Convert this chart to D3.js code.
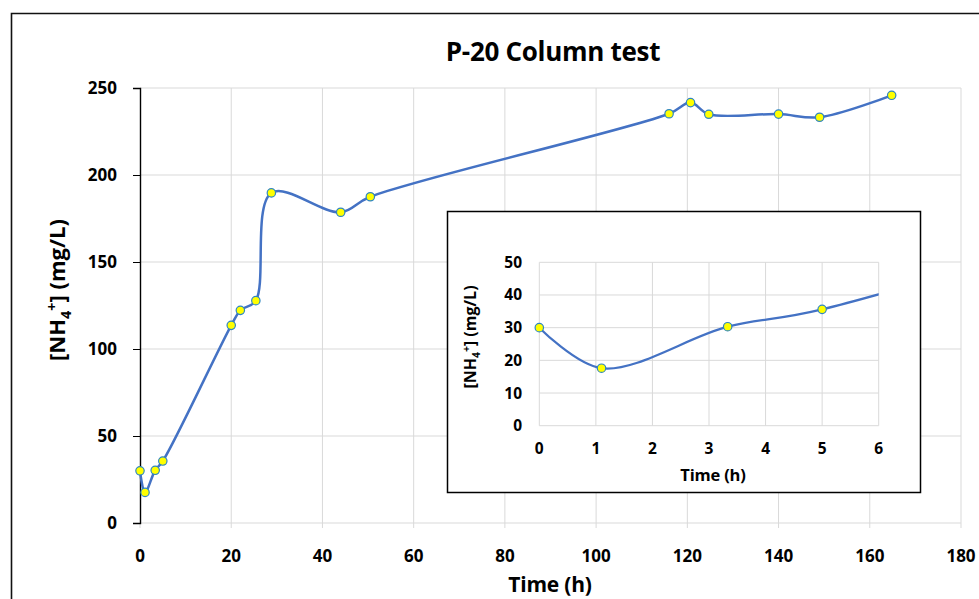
<!DOCTYPE html>
<html>
<head>
<meta charset="utf-8">
<script src="https://cdn.jsdelivr.net/npm/d3@7"></script>
<style>
  body { margin: 0; background: #fff; }
  svg { display: block; font-family: "Open Sans", Lato, sans-serif; font-weight: 700; }
</style>
</head>
<body>
<svg id="chart" width="979" height="599"></svg>
<script>
// Data
const timeH = [0, 1.1, 3.33, 5, 20, 22, 25.4, 28.8, 44, 50.5, 116, 120.7, 124.7, 140, 149, 164.8];
const nh4   = [30, 17.6, 30.3, 35.6, 113.6, 122.2, 127.8, 189.7, 178.6, 187.5, 235.2, 241.6, 234.9, 235, 233.2, 245.8];

const mainXTicks = [0, 20, 40, 60, 80, 100, 120, 140, 160, 180];
const mainYTicks = [0, 50, 100, 150, 200, 250];
const insetXTicks = [0, 1, 2, 3, 4, 5, 6];
const insetYTicks = [0, 10, 20, 30, 40, 50];

const points = timeH.map((t, i) => ({ t, v: nh4[i] }));

const LINE = "#4472C4", GRID = "#d9d9d9";

const svg = d3.select("#chart");

// outer chart border
svg.append("path")
  .attr("d", "M11.5,599 L11.5,13.5 L979,13.5")
  .attr("fill", "none").attr("stroke", "#111").attr("stroke-width", 1.6);

// Main chart
const x = d3.scaleLinear().domain([0, 180]).range([140, 961]);
const y = d3.scaleLinear().domain([0, 250]).range([523, 88]);

const main = svg.append("g");

main.append("g").selectAll("line").data(mainXTicks.slice(1)).join("line")
  .attr("x1", d => x(d)).attr("x2", d => x(d))
  .attr("y1", y(250)).attr("y2", y(0) + 5)
  .attr("stroke", GRID).attr("stroke-width", 1);
main.append("g").selectAll("line").data(mainYTicks.slice(1)).join("line")
  .attr("x1", x(0)).attr("x2", x(180))
  .attr("y1", d => y(d)).attr("y2", d => y(d))
  .attr("stroke", GRID).attr("stroke-width", 1);

// x axis (gray)
main.append("line")
  .attr("x1", x(0)).attr("x2", x(180)).attr("y1", y(0)).attr("y2", y(0))
  .attr("stroke", GRID).attr("stroke-width", 1.2);
main.append("line")
  .attr("x1", x(0)).attr("x2", x(0)).attr("y1", y(0)).attr("y2", y(0) + 5)
  .attr("stroke", GRID);

// y axis (black with ticks)
const yAxis = main.append("g").attr("transform", `translate(${x(0)},0)`)
  .call(d3.axisLeft(y).tickValues(mainYTicks).tickSize(7).tickPadding(16));
yAxis.select(".domain").attr("stroke", "#000").attr("stroke-width", 1.4);
yAxis.selectAll(".tick line").attr("stroke", "#000");
yAxis.selectAll("text").attr("font-size", "17px").attr("font-family", "'Open Sans'")
  .attr("font-weight", "700").attr("fill", "#000");

main.append("g").selectAll("text").data(mainXTicks).join("text")
  .attr("x", d => x(d)).attr("y", 562)
  .attr("text-anchor", "middle").attr("font-size", "17px").attr("fill", "#000")
  .text(d => d);

const smooth = d3.curveCatmullRom.alpha(0.5);
const lineMain = d3.line().x(d => x(d.t)).y(d => y(d.v)).curve(smooth);

main.append("path").attr("d", lineMain(points))
  .attr("fill", "none").attr("stroke", LINE).attr("stroke-width", 2.5);
main.append("g").selectAll("circle").data(points).join("circle")
  .attr("cx", d => x(d.t)).attr("cy", d => y(d.v)).attr("r", 4.2)
  .attr("fill", "#FFFF00").attr("stroke", "#2E86C1").attr("stroke-width", 1.2);

// titles
svg.append("text").attr("x", 553).attr("y", 61).attr("text-anchor", "middle")
  .attr("font-size", "26px").attr("letter-spacing", "-0.3").text("P-20 Column test");
svg.append("text").attr("x", 550).attr("y", 592).attr("text-anchor", "middle")
  .attr("font-size", "21px").attr("letter-spacing", "-0.2").text("Time (h)");

function nhLabel(g, size) {
  const t = g.append("text").attr("text-anchor", "middle").attr("font-size", size + "px");
  t.append("tspan").text("[NH");
  t.append("tspan").attr("font-size", (size * 0.65) + "px").attr("dy", size * 0.25).text("4");
  t.append("tspan").attr("font-size", (size * 0.65) + "px").attr("dy", -size * 0.62).text("+");
  t.append("tspan").attr("dy", size * 0.37).text("] (mg/L)");
  return t;
}
nhLabel(svg.append("g").attr("transform", "translate(65,290) rotate(-90)"), 22);

// Inset
const inset = svg.append("g");
inset.append("rect").attr("x", 447.5).attr("y", 211.5).attr("width", 473).attr("height", 281)
  .attr("fill", "#fff").attr("stroke", "#000").attr("stroke-width", 1.5);

const xi = d3.scaleLinear().domain([0, 6]).range([539.3, 878.7]);
const yi = d3.scaleLinear().domain([0, 50]).range([425.7, 262.3]);

inset.append("g").selectAll("line").data(insetXTicks).join("line")
  .attr("x1", d => xi(d)).attr("x2", d => xi(d))
  .attr("y1", yi(50)).attr("y2", yi(0))
  .attr("stroke", GRID).attr("stroke-width", 1);
inset.append("g").selectAll("line").data(insetYTicks).join("line")
  .attr("x1", xi(0)).attr("x2", xi(6))
  .attr("y1", d => yi(d)).attr("y2", d => yi(d))
  .attr("stroke", GRID).attr("stroke-width", 1);

inset.append("g").selectAll("text").data(insetYTicks).join("text")
  .attr("x", 522).attr("y", d => yi(d) + 5.5)
  .attr("text-anchor", "end").attr("font-size", "15.5px").text(d => d);
inset.append("g").selectAll("text").data(insetXTicks).join("text")
  .attr("x", d => xi(d)).attr("y", 454)
  .attr("text-anchor", "middle").attr("font-size", "15.5px").text(d => d);

inset.append("text").attr("x", 713).attr("y", 481).attr("text-anchor", "middle")
  .attr("font-size", "16.5px").attr("letter-spacing", "-0.2").text("Time (h)");
nhLabel(inset.append("g").attr("transform", "translate(476,337) rotate(-90)"), 16);

svg.append("defs").append("clipPath").attr("id", "insetClip")
  .append("rect").attr("x", xi(0) - 6).attr("y", yi(50) - 6)
  .attr("width", xi(6) - xi(0) + 6).attr("height", yi(0) - yi(50) + 12);

const lineInset = d3.line().x(d => xi(d.t)).y(d => yi(d.v)).curve(smooth);
const clipped = inset.append("g").attr("clip-path", "url(#insetClip)");
clipped.append("path").attr("d", lineInset(points))
  .attr("fill", "none").attr("stroke", LINE).attr("stroke-width", 2.2);
inset.append("g").selectAll("circle").data(points.filter(d => d.t <= 6)).join("circle")
  .attr("cx", d => xi(d.t)).attr("cy", d => yi(d.v)).attr("r", 4.2)
  .attr("fill", "#FFFF00").attr("stroke", "#2E86C1").attr("stroke-width", 1.2);
</script>
</body>
</html>
